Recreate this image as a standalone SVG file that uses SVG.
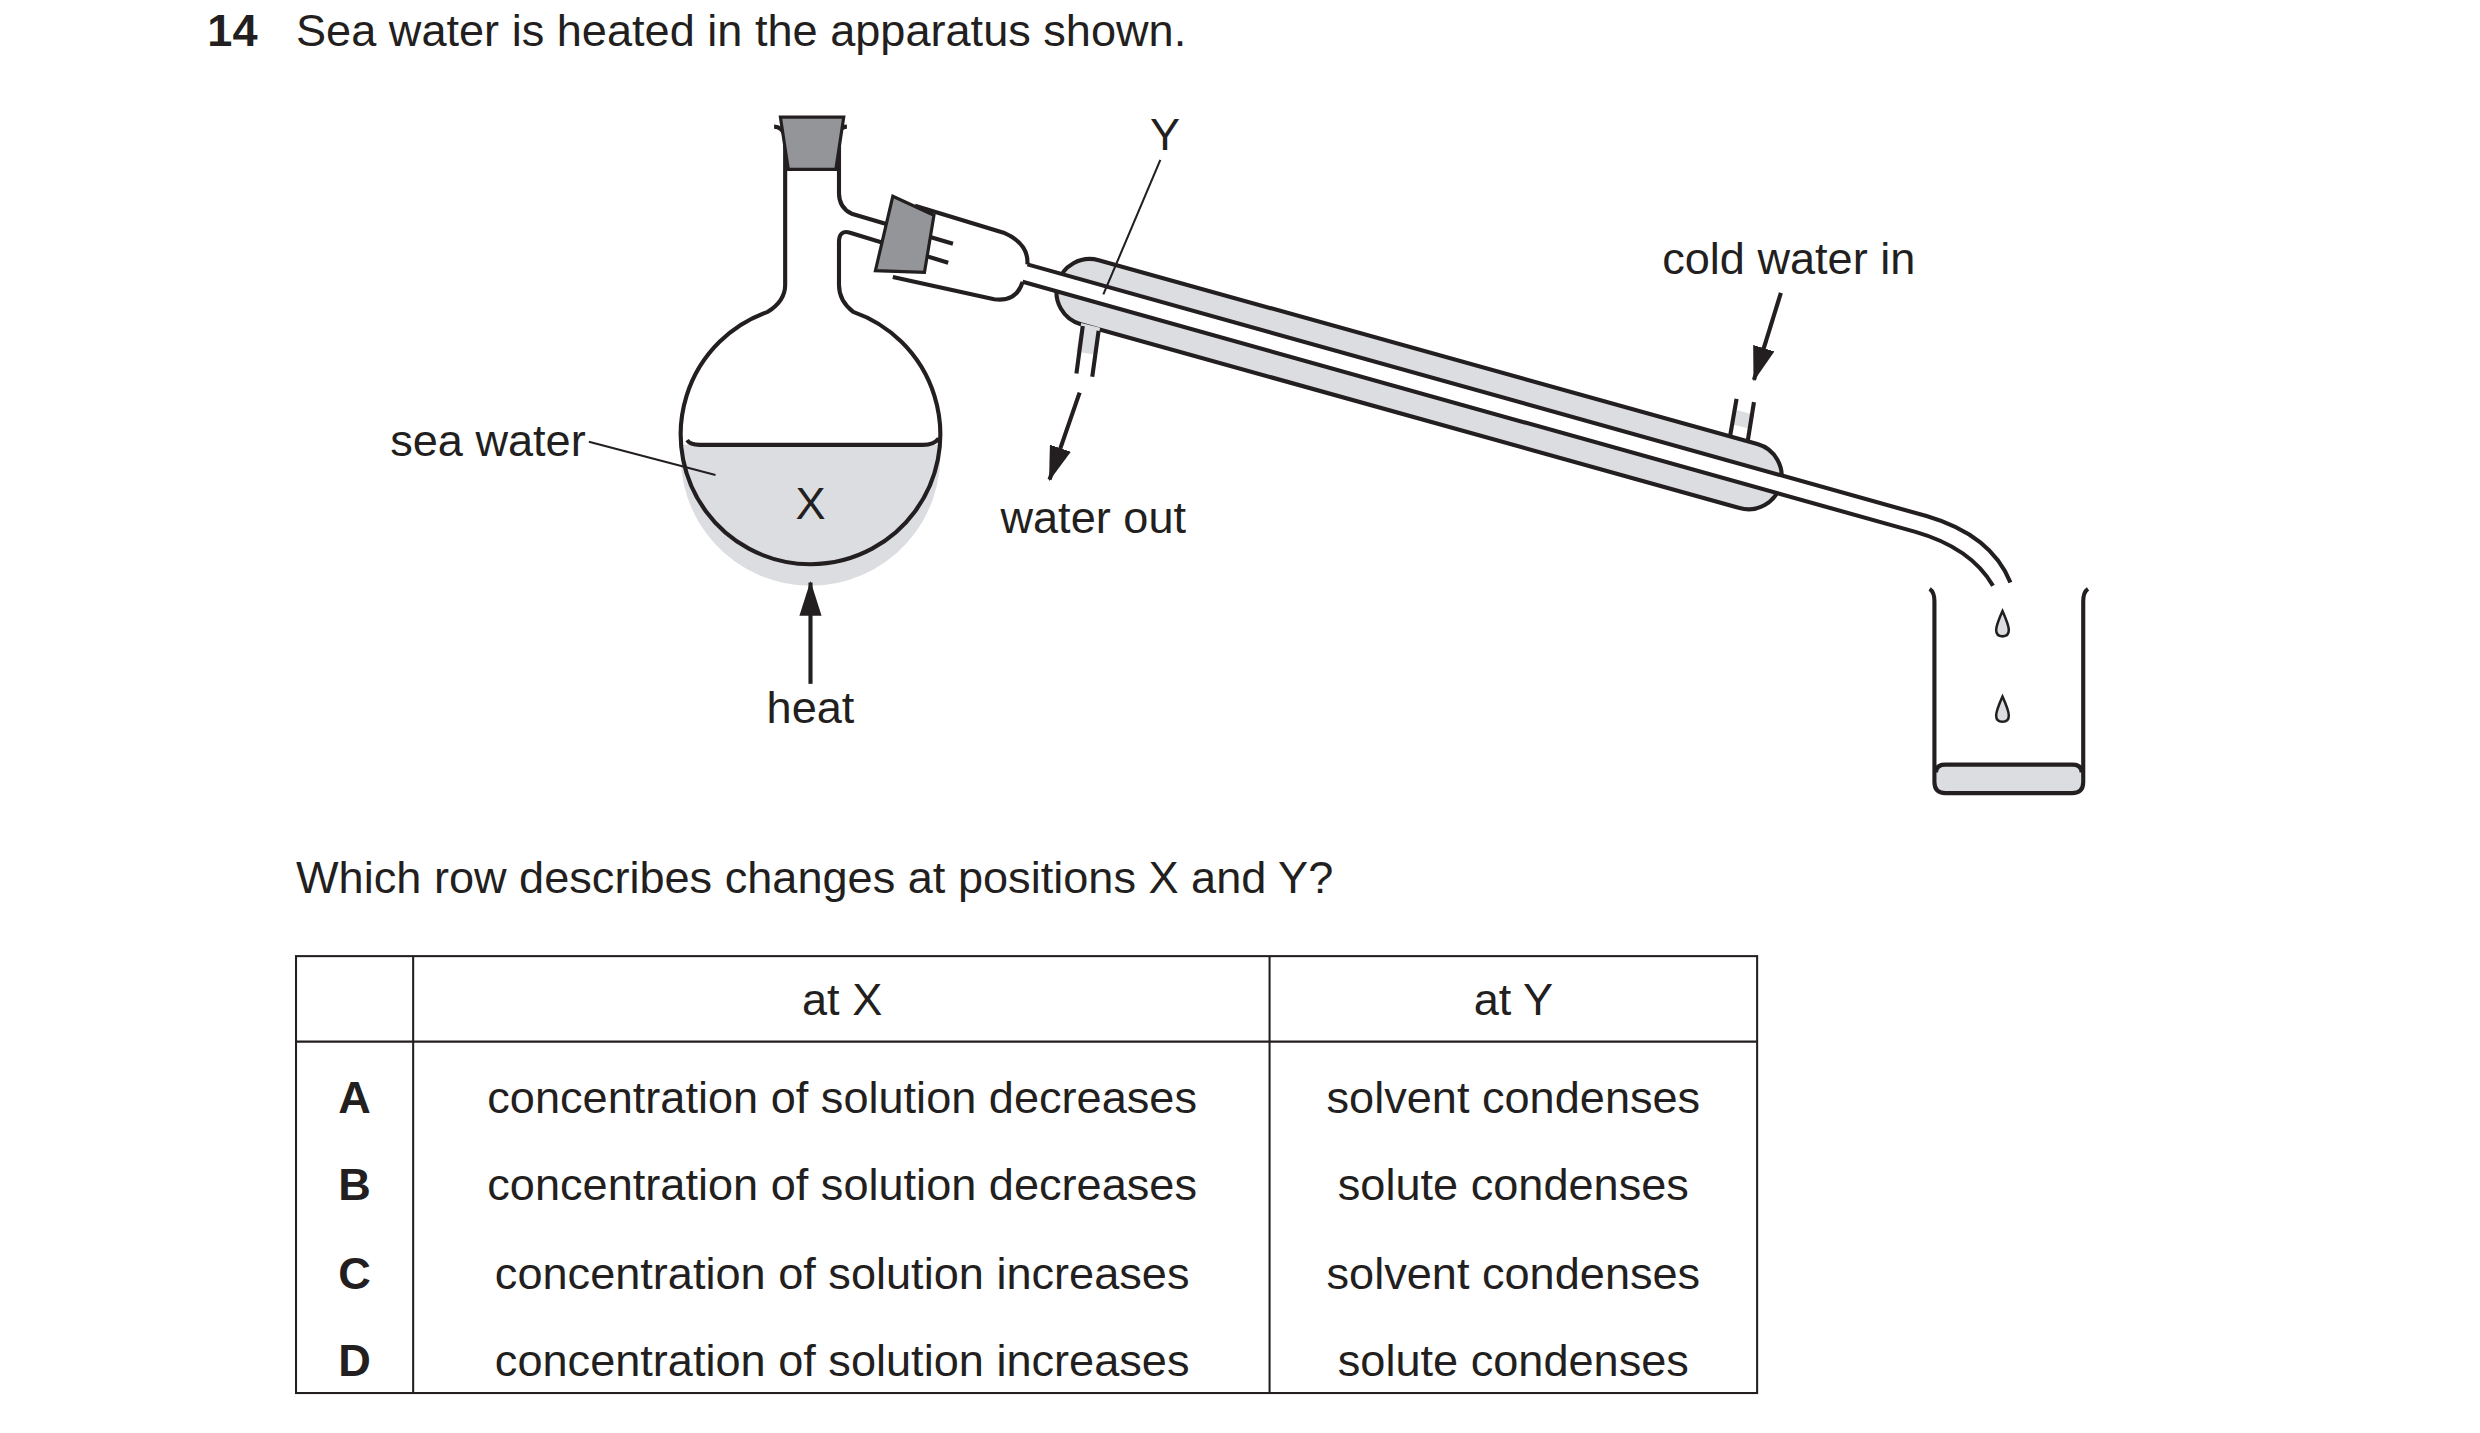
<svg xmlns="http://www.w3.org/2000/svg" width="2480" height="1433" viewBox="0 0 2480 1433">
<style>
text{font-family:"Liberation Sans",Arial,sans-serif;font-size:28.5px;fill:#231f20}
.o{fill:none;stroke:#231f20;stroke-width:2.6;stroke-linejoin:round}
.t{fill:none;stroke:#231f20;stroke-width:1.3}
.g{fill:#dcdde0}
.c{text-anchor:middle}
.b{font-weight:bold}
</style>
<defs>
<marker id="ah" markerUnits="userSpaceOnUse" markerWidth="22" markerHeight="14" viewBox="0 0 22 14" refX="21" refY="7" orient="auto">
<path d="M0,0 L22,7 L0,14 Z" fill="#231f20"/>
</marker>
</defs>
<rect width="2480" height="1433" fill="#fff"/>
<g transform="scale(1.583)">
<g id="title">
<text x="131" y="29" class="b">14</text>
<text x="187" y="29">Sea water is heated in the apparatus shown.</text>
</g>
<g id="flask">
<path class="g" d="M430.3,281 L593.7,281 A82,82 0 1,1 430.3,281 Z"/>
<path class="o" d="M434,278 Q436,281 442,281 L583,281 Q590,281 593,277"/>
<path class="o" d="M496,84 L496,180 Q496,190 485,197 A82,82 0 1,0 539,197 Q530,190 530,180 L530,153 Q530,145 537,147 L599,166"/>
<path class="o" d="M530,84 L530,122 Q530,131 538,135 L602,154"/>
<path class="o" d="M489,80 Q494,80 496,86 M535,80 Q530,80 530,86"/>
<polygon points="493,74 533,74 528,107 498,107" fill="#939598" stroke="#231f20" stroke-width="2"/>
<polygon points="564,124 590,136 584,172 553,171" fill="#939598" stroke="#231f20" stroke-width="2"/>
<path class="o" d="M578,130 L634,147 Q650,154 649,167 M646,178 Q642,191 628,189 L564,175"/>
</g>
<g id="condenser">
<rect transform="translate(647,173) rotate(15.6)" x="22" y="-21" width="474" height="42" rx="21" class="g" stroke="#231f20" stroke-width="2.6"/>
<path d="M649,167 L1217,326 Q1258,338 1270,368 L1259,370 Q1248,345 1210,336 L646,178 Z" fill="#fff"/>
<path class="o" d="M649,167 L1217,326 Q1258,338 1270,368 M646,178 L1210,336 Q1245,346 1259,370"/>
<path class="g" d="M683,204 L695,207 L691,224 L680,222 Z"/>
<path class="o" d="M684,206 L680,236 M694,209 L690,238"/>
<path class="g" d="M1094,268 L1106,271 L1108,262 L1097,259 Z"/>
<path class="o" d="M1093,275 L1097,252 M1104,279 L1108,254"/>
</g>
<g id="beaker">
<path class="g" d="M1223,483 L1315,483 L1315,494 Q1315,500 1309,500 L1229,500 Q1223,500 1223,494 Z"/>
<path class="o" d="M1219,372 Q1222,374 1222,380 L1222,494 Q1222,501 1229,501 L1309,501 Q1316,501 1316,494 L1316,380 Q1316,374 1319,372"/>
<path class="o" d="M1223,488 Q1223,483 1229,483 L1309,483 Q1315,483 1315,488"/>
<path d="M1265,386 Q1261,395 1261,398 Q1261,402 1265,402 Q1269,402 1269,398 Q1269,395 1265,386 Z" fill="#dcdde0" stroke="#231f20" stroke-width="1.6"/>
<path d="M1265,440 Q1261,449 1261,452 Q1261,456 1265,456 Q1269,456 1269,452 Q1269,449 1265,440 Z" fill="#dcdde0" stroke="#231f20" stroke-width="1.6"/>
</g>
<g id="labels">
<text x="370" y="288" text-anchor="end">sea water</text>
<text x="512" y="328" class="c">X</text>
<text x="736" y="95" class="c">Y</text>
<text x="512" y="457" class="c">heat</text>
<text x="632" y="337">water out</text>
<text x="1050" y="173">cold water in</text>
</g>
<g id="connectors">
<line class="t" x1="372" y1="279" x2="452" y2="300"/>
<line class="t" x1="733" y1="101" x2="697" y2="186"/>
<line class="o" x1="512" y1="432" x2="512" y2="368" marker-end="url(#ah)"/>
<line class="o" x1="682" y1="248" x2="663" y2="303" marker-end="url(#ah)"/>
<line class="o" x1="1125" y1="185" x2="1108" y2="240" marker-end="url(#ah)"/>
</g>
<g id="question">
<text x="187" y="564">Which row describes changes at positions X and Y?</text>
</g>
<g id="table">
<rect x="187" y="604" width="923" height="276" fill="none" stroke="#231f20" stroke-width="1.3"/>
<path class="t" d="M261,604 L261,880 M802,604 L802,880 M187,658 L1110,658"/>
<text x="532" y="641" class="c">at X</text>
<text x="956" y="641" class="c">at Y</text>
<text x="224" y="703" class="c b">A</text>
<text x="224" y="758" class="c b">B</text>
<text x="224" y="814" class="c b">C</text>
<text x="224" y="869" class="c b">D</text>
<text x="532" y="703" class="c">concentration of solution decreases</text>
<text x="532" y="758" class="c">concentration of solution decreases</text>
<text x="532" y="814" class="c">concentration of solution increases</text>
<text x="532" y="869" class="c">concentration of solution increases</text>
<text x="956" y="703" class="c">solvent condenses</text>
<text x="956" y="758" class="c">solute condenses</text>
<text x="956" y="814" class="c">solvent condenses</text>
<text x="956" y="869" class="c">solute condenses</text>
</g>
</g>
</svg>
